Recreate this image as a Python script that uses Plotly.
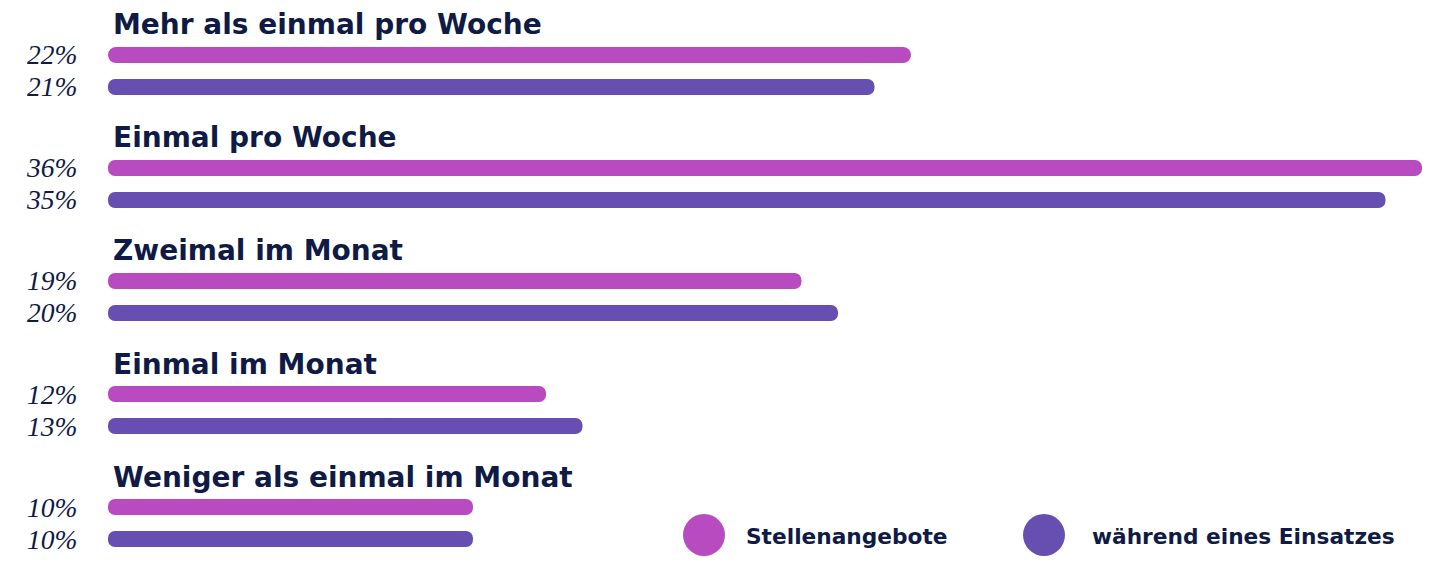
import plotly.graph_objects as go

categories = ["Mehr als einmal pro Woche", "Einmal pro Woche", "Zweimal im Monat",
              "Einmal im Monat", "Weniger als einmal im Monat"]
stellenangebote = [22, 36, 19, 12, 10]
einsatz = [21, 35, 20, 13, 10]
series_names = ["Stellenangebote", "während eines Einsatzes"]

PINK = "#b84bbf"
PURPLE = "#664fb0"
NAVY = "#0f1a45"

W, H = 1440, 575
ML, MR = 108, 18
PW = W - ML - MR

fig = go.Figure()
# each bar is drawn as two overlapping pieces so both ends get rounded caps
for vals, col, name, grp in ((stellenangebote, PINK, series_names[0], "a"),
                             (einsatz, PURPLE, series_names[1], "b")):
    fig.add_trace(go.Bar(y=categories, x=[v * 0.6 for v in vals], base=[v * 0.4 for v in vals],
                         orientation="h", marker=dict(color=col, line=dict(width=0)),
                         name=name, offsetgroup=grp, showlegend=False,
                         customdata=vals, hovertemplate="%{customdata}%<extra>" + name + "</extra>"))
    fig.add_trace(go.Bar(y=categories, x=[-v * 0.6 for v in vals], base=[v * 0.6 for v in vals],
                         orientation="h", marker=dict(color=col, line=dict(width=0)),
                         name=name, offsetgroup=grp, showlegend=False,
                         customdata=vals, hovertemplate="%{customdata}%<extra>" + name + "</extra>"))

annotations = []
for i, cat in enumerate(categories):
    annotations.append(dict(x=0, y=cat, xref="x", yref="y", text=f"<b>{cat}</b>",
                            showarrow=False, xanchor="left", yanchor="middle",
                            xshift=3, yshift=46,
                            font=dict(family="DejaVu Sans", size=28, color=NAVY)))
    for vals, ys in ((stellenangebote, -16), (einsatz, 16)):
        annotations.append(dict(x=0, y=cat, xref="x", yref="y", text=f"<i>{vals[i]}%</i>",
                                showarrow=False, xanchor="right", yanchor="middle",
                                xshift=-29, yshift=-ys,
                                font=dict(family="Liberation Serif", size=27.5, color=NAVY)))

def px_x(p):
    return (p - ML) / PW

def px_y(p):
    return 1 - p / H

# legend drawn manually (large circles)
shapes = []
for cx, col, tx, name in ((704, PINK, 744, series_names[0]), (1044, PURPLE, 1090, series_names[1])):
    shapes.append(dict(type="circle", xref="paper", yref="paper",
                       x0=px_x(cx - 21), x1=px_x(cx + 21),
                       y0=px_y(535 + 21), y1=px_y(535 - 21),
                       fillcolor=col, line=dict(width=0)))
    annotations.append(dict(x=px_x(tx), y=px_y(536), xref="paper", yref="paper",
                            text=f"<b>{name}</b>", showarrow=False, xanchor="left",
                            yanchor="middle",
                            font=dict(family="DejaVu Sans", size=21.7, color=NAVY)))

fig.update_layout(
    width=W, height=H,
    margin=dict(l=ML, r=MR, t=0, b=0),
    paper_bgcolor="white", plot_bgcolor="white",
    barmode="group", bargap=0.434, bargroupgap=0.5,
    barcornerradius="50%",
    xaxis=dict(range=[0, 36], visible=False, fixedrange=True),
    yaxis=dict(range=[4.460, -0.628], visible=False, fixedrange=True,
               categoryorder="array", categoryarray=categories),
    annotations=annotations, shapes=shapes,
)
fig.write_html("out.html")
